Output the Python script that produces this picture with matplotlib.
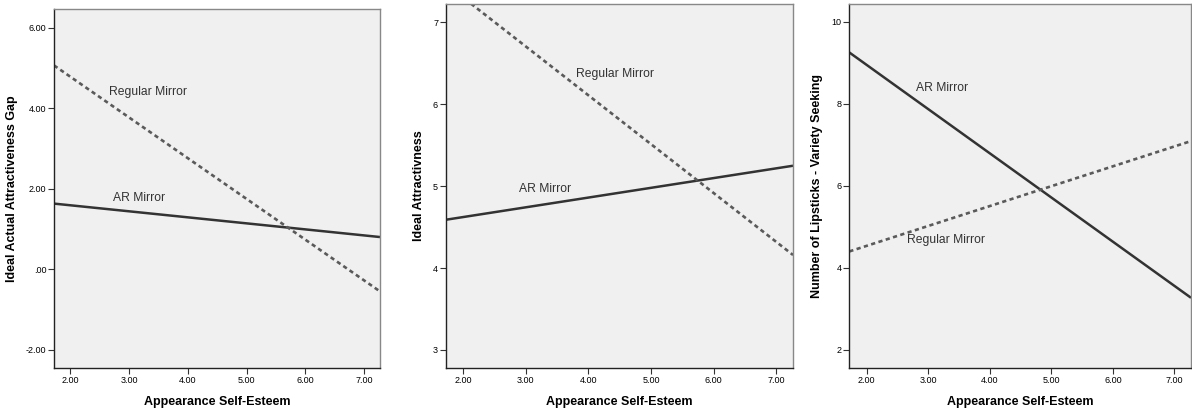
import matplotlib.pyplot as plt

plt.rcParams['font.family'] = ['Liberation Sans', 'DejaVu Sans']

# x range of the fitted lines (Appearance Self-Esteem)
x_ends = [1.72, 7.27]

# panel 1: Ideal Actual Attractiveness Gap
gap_ar = [1.63, 0.80]
gap_regular = [5.06, -0.55]
# panel 2: Ideal Attractivness
ideal_ar = [4.59, 5.25]
ideal_regular = [7.47, 4.16]
# panel 3: Number of Lipsticks - Variety Seeking
lip_ar = [9.25, 3.27]
lip_regular = [4.40, 7.09]

ylabels = ['Ideal Actual Attractiveness Gap', 'Ideal Attractivness',
           'Number of Lipsticks - Variety Seeking']
yticks = [[-2, 0, 2, 4, 6], [3, 4, 5, 6, 7], [2, 4, 6, 8, 10]]
yticklabels = [['-2.00', '.00', '2.00', '4.00', '6.00'],
               ['3', '4', '5', '6', '7'],
               ['2', '4', '6', '8', '10']]
ylims = [(-2.45, 6.46), (2.78, 7.23), (1.56, 10.44)]
xticks = [2, 3, 4, 5, 6, 7]
xticklabels = ['2.00', '3.00', '4.00', '5.00', '6.00', '7.00']

# label positions (x, y) for AR / Regular text
ar_pos = [(2.72, 1.70), (2.89, 4.93), (2.80, 8.32)]
reg_pos = [(2.66, 4.33), (3.80, 6.33), (2.66, 4.60)]

ar_vals = [gap_ar, ideal_ar, lip_ar]
reg_vals = [gap_regular, ideal_regular, lip_regular]

fig = plt.figure(figsize=(11.92, 4.15), dpi=100)
rects = [[0.0453, 0.1133, 0.2735, 0.865],
         [0.3739, 0.1133, 0.2914, 0.878],
         [0.7125, 0.1133, 0.2867, 0.878]]

for i in range(3):
    ax = fig.add_axes(rects[i])
    ax.set_facecolor('#f0f0f0')
    ax.plot(x_ends, ar_vals[i], color='#333333', lw=1.8, solid_capstyle='butt')
    ax.plot(x_ends, reg_vals[i], color='#5a5a5a', lw=1.9, dashes=(1.6, 1.3))
    ax.text(ar_pos[i][0], ar_pos[i][1], 'AR Mirror', fontsize=8.7, color='#333333')
    ax.text(reg_pos[i][0], reg_pos[i][1], 'Regular Mirror', fontsize=8.7, color='#333333')
    ax.set_xlim(1.72, 7.27)
    ax.set_ylim(*ylims[i])
    ax.set_xticks(xticks)
    ax.set_xticklabels(xticklabels)
    ax.set_yticks(yticks[i])
    ax.set_yticklabels(yticklabels[i])
    ax.tick_params(labelsize=6.5, length=4, width=0.8, color='#333333', pad=1.5)
    for s in ['left', 'bottom']:
        ax.spines[s].set_color('#222222')
        ax.spines[s].set_linewidth(1.0)
    for s in ['top', 'right']:
        ax.spines[s].set_color('#888888')
        ax.spines[s].set_linewidth(1.0)
    ax.set_xlabel('Appearance Self-Esteem', fontsize=9, fontweight='bold', labelpad=8)
    ax.set_ylabel(ylabels[i], fontsize=9, fontweight='bold', labelpad=6)

fig.savefig('out.png', dpi=100)
